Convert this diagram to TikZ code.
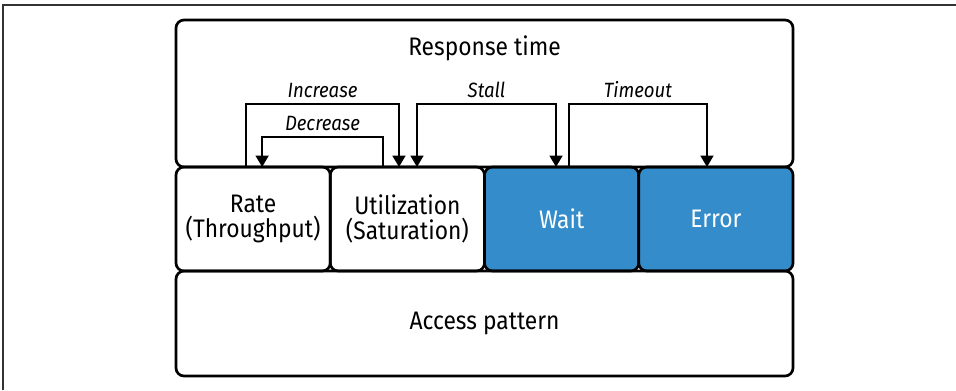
\documentclass[tikz,border=0pt]{standalone}
\usepackage{fontspec}
\setmainfont{Fira Sans}[FakeStretch=0.9]
\usetikzlibrary{positioning,arrows.meta}
\definecolor{FigureBlue}{HTML}{348DCA}
\definecolor{FigureFrame}{HTML}{333333}

\tikzset{
  box/.style={draw,line width=2pt,rounded corners=6pt,outer sep=0pt,inner sep=0pt,
    align=center,font=\fontsize{19}{18.5}\selectfont},
  cellbox/.style={box,minimum width=115.69pt,minimum height=78pt},
  hot/.style={cellbox,fill=FigureBlue,text=white},
  flow/.style={line width=1.8pt,-{Triangle[width=9.5pt,length=8.5pt]}},
  twoway/.style={line width=1.8pt,{Triangle[width=9.5pt,length=8.5pt]}-{Triangle[width=9.5pt,length=8.5pt]}},
  tag/.style={font=\fontsize{15.5}{17}\selectfont\itshape,inner sep=3.5pt}
}

\begin{document}
\begin{tikzpicture}[x=0.75pt,y=-0.75pt,line join=miter]
  \useasboundingbox (0,0) rectangle (956,390);
  \draw[FigureFrame,line width=1.2pt] (956,5) -- (3,5) -- (3,390);
  % middle row
  \node (rate) [cellbox,anchor=north west] at (176,167) {Rate\\(Throughput)};
  \node (util) [cellbox,right=0pt of rate] {Utilization\\(Saturation)};
  \node (wait) [hot,right=0pt of util] {Wait};
  \node (error) [hot,right=0pt of wait] {Error};
  % top and bottom
  \node (resp) [box,anchor=south west,minimum width=462.75pt,minimum height=110.25pt] at (rate.north west) {};
  \node (resplabel) [font=\fontsize{19}{18.5}\selectfont,below=8pt of resp.north] {Response time};
  \node (access) [box,anchor=north west,minimum width=462.75pt,minimum height=78.75pt] at (rate.south west) {Access pattern};
  % feedback paths
  \draw[flow] ([shift={(-7,0)}]rate.north) -- ++(0,-63)
    -| node (inc) [tag,pos=0.25,above] {Increase} ([shift={(-8.4,0)}]util.north);
  \draw[flow] ([shift={(-24.4,0)}]util.north) -- ++(0,-30)
    -| node (dec) [tag,pos=0.25,above] {Decrease} ([shift={(9,0)}]rate.north);
  \draw[twoway] ([shift={(9.6,0)}]util.north) -- ++(0,-63)
    -| node (stall) [tag,pos=0.25,above] {Stall} ([shift={(-5.6,0)}]wait.north);
  \draw[flow] ([shift={(7.4,0)}]wait.north) -- ++(0,-63)
    -| node (tmo) [tag,pos=0.25,above] {Timeout} ([shift={(-8.9,0)}]error.north);
\end{tikzpicture}
\end{document}
